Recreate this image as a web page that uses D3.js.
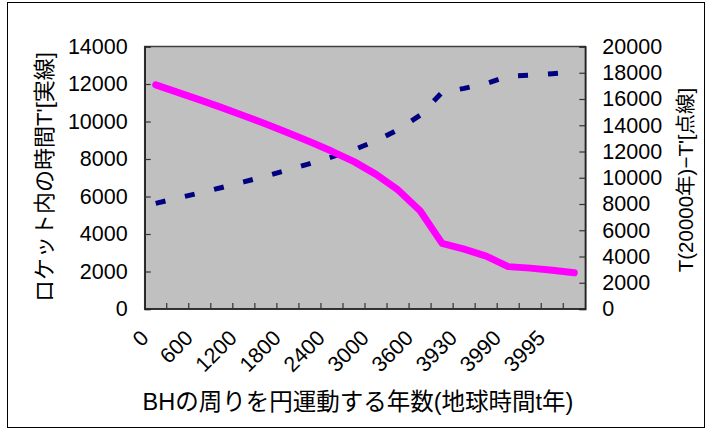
<!DOCTYPE html>
<html><head><meta charset="utf-8">
<script src="https://cdn.jsdelivr.net/npm/d3@7"></script>
<style>
html,body{margin:0;padding:0;background:#fff;}
text{font-family:"Liberation Sans","Noto Sans CJK JP",sans-serif;fill:#000;}
</style></head>
<body>
<svg id="c" width="712" height="435"></svg>
<script>
// categories: years of circular motion around BH (earth time t)
const categories = ["0","300","600","900","1200","1500","1800","2100","2400","2700","3000","3300","3600","3900","3930","3960","3990","3993","3995","3998"];
// rocket proper time T' (solid, left axis)
const rocketTime = [11950,11550,11150,10740,10310,9870,9400,8920,8410,7860,7180,6350,5240,3500,3190,2820,2260,2180,2070,1930];
// T(20000 years) - T' (dotted, right axis)
const timeDiff = [8050,8450,8850,9260,9690,10130,10600,11080,11590,12140,12820,13650,14760,16500,16810,17180,17740,17820,17930,18070];
const leftTicks = [0,2000,4000,6000,8000,10000,12000,14000];
const rightTicks = [0,2000,4000,6000,8000,10000,12000,14000,16000,18000,20000];
const labelEvery = 2;

const svg = d3.select("#c");
const plot = {x0:144.7, x1:585.3, y0:46.5, y1:309};

// outer chart border
svg.append("rect").attr("x",7.5).attr("y",2.5).attr("width",697).attr("height",425)
  .attr("fill","#fff").attr("stroke","#000").attr("stroke-width",1);

const x = d3.scaleBand().domain(categories).range([plot.x0, plot.x1]).padding(0);
const yL = d3.scaleLinear().domain([0,14000]).range([plot.y1, plot.y0]);
const yR = d3.scaleLinear().domain([0,20000]).range([plot.y1, plot.y0]);

// plot area
svg.append("rect").attr("x",plot.x0).attr("y",plot.y0)
  .attr("width",plot.x1-plot.x0).attr("height",plot.y1-plot.y0)
  .attr("fill","#C0C0C0").attr("stroke","#404040").attr("stroke-width",1.5);

const fs = 21.5;
// left axis
const gL = svg.append("g").attr("transform",`translate(${plot.x0},0)`)
  .call(d3.axisLeft(yL).tickValues(leftTicks).tickSize(-6).tickPadding(17).tickFormat(d3.format("d")));
gL.select(".domain").attr("stroke","#222").attr("stroke-width",1.5);
gL.selectAll(".tick line").attr("stroke","#333").attr("stroke-width",1.2);
gL.selectAll("text").attr("font-size",fs).attr("font-family","Liberation Sans, sans-serif");

// right axis
const gR = svg.append("g").attr("transform",`translate(${plot.x1},0)`)
  .call(d3.axisRight(yR).tickValues(rightTicks).tickSize(-6).tickPadding(17).tickFormat(d3.format("d")));
gR.select(".domain").attr("stroke","#222").attr("stroke-width",1.5);
gR.selectAll(".tick line").attr("stroke","#333").attr("stroke-width",1.2);
gR.selectAll("text").attr("font-size",fs).attr("font-family","Liberation Sans, sans-serif");

// bottom axis ticks at category boundaries
const gB = svg.append("g").attr("transform",`translate(0,${plot.y1})`);
gB.append("line").attr("x1",plot.x0).attr("x2",plot.x1).attr("stroke","#222").attr("stroke-width",1.5);
categories.forEach((c,i)=>{
  if(i===0) return;
  const xx = x(c);
  gB.append("line").attr("x1",xx).attr("x2",xx).attr("y1",0).attr("y2",-6).attr("stroke","#333").attr("stroke-width",1.2);
});
categories.forEach((c,i)=>{
  if(i % labelEvery !== 0) return;
  const cx = x(c) + x.bandwidth()/2;
  svg.append("text").attr("transform",`translate(${cx-11},${334}) rotate(-45)`)
    .attr("text-anchor","end").attr("dy","0.35em").attr("font-size",fs)
    .attr("font-family","Liberation Sans, sans-serif").text(c);
});

// lines
const cxf = (d,i)=> x(categories[i]) + x.bandwidth()/2;
svg.append("path").datum(timeDiff)
  .attr("d", d3.line().x(cxf).y(d=>yR(d)))
  .attr("fill","none").attr("stroke","#000080").attr("stroke-width",5)
  .attr("stroke-dasharray","10,20");
svg.append("path").datum(rocketTime)
  .attr("d", d3.line().x(cxf).y(d=>yL(d)))
  .attr("fill","none").attr("stroke","#FF00FF").attr("stroke-width",7)
  .attr("stroke-linecap","round").attr("stroke-linejoin","round");

// axis titles
svg.append("text").attr("transform",`translate(52,${177}) rotate(-90)`)
  .attr("text-anchor","middle").attr("font-size",22)
  .attr("font-family","Noto Sans CJK JP, sans-serif").text("ロケット内の時間T'[実線]");
svg.append("text").attr("transform",`translate(693,${180}) rotate(-90)`)
  .attr("text-anchor","middle").attr("font-size",20.5)
  .attr("font-family","Noto Sans CJK JP, sans-serif").text("T(20000年)−T'[点線]");
svg.append("text").attr("x",358).attr("y",410)
  .attr("text-anchor","middle").attr("font-size",23.5)
  .attr("font-family","Noto Sans CJK JP, sans-serif").text("BHの周りを円運動する年数(地球時間t年)");
</script>
</body></html>
